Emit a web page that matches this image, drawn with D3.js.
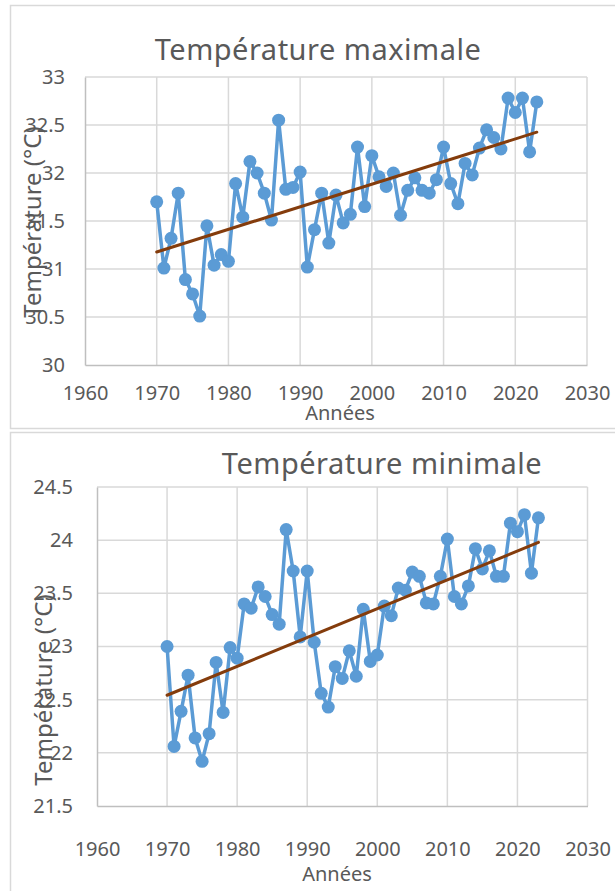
<!DOCTYPE html>
<html>
<head>
<meta charset="utf-8">
<script src="https://cdn.jsdelivr.net/npm/d3@7"></script>
<style>
  body { margin: 0; background: #fff; }
  text { font-family: "Noto Sans", "Open Sans", sans-serif; fill: #595959; }
</style>
</head>
<body>
<script>
// years 1970 - 2023
var years = d3.range(1970, 2024);

var tmax = [31.70, 31.01, 31.32, 31.79, 30.89, 30.74, 30.51, 31.45, 31.04, 31.15,
            31.08, 31.89, 31.54, 32.12, 32.00, 31.79, 31.51, 32.55, 31.83, 31.85,
            32.01, 31.02, 31.41, 31.79, 31.27, 31.77, 31.48, 31.57, 32.27, 31.65,
            32.18, 31.96, 31.86, 32.00, 31.56, 31.82, 31.95, 31.82, 31.79, 31.93,
            32.27, 31.89, 31.68, 32.10, 31.98, 32.26, 32.45, 32.37, 32.25, 32.78,
            32.63, 32.78, 32.22, 32.74];

var tmin = [23.00, 22.06, 22.39, 22.73, 22.14, 21.92, 22.18, 22.85, 22.38, 22.99,
            22.89, 23.40, 23.36, 23.56, 23.47, 23.30, 23.21, 24.10, 23.71, 23.09,
            23.71, 23.04, 22.56, 22.43, 22.81, 22.70, 22.96, 22.72, 23.35, 22.86,
            22.92, 23.38, 23.29, 23.55, 23.53, 23.70, 23.66, 23.41, 23.40, 23.66,
            24.01, 23.47, 23.40, 23.57, 23.92, 23.73, 23.90, 23.66, 23.66, 24.16,
            24.08, 24.24, 23.69, 24.21];

var xTicks = [1960, 1970, 1980, 1990, 2000, 2010, 2020, 2030];
var yTicksMax = [30, 30.5, 31, 31.5, 32, 32.5, 33];
var yTicksMin = [21.5, 22, 22.5, 23, 23.5, 24, 24.5];

var w = 615, h = 891;

var svg = d3.select("body").append("svg")
  .attr("width", w)
  .attr("height", h);

// panel frames
svg.append("rect").attr("x", 10.5).attr("y", 5.5).attr("width", 620).attr("height", 423)
  .attr("fill", "#fff").attr("stroke", "#d9d9d9").attr("stroke-width", 1.5);
svg.append("rect").attr("x", 10.5).attr("y", 432.5).attr("width", 620).attr("height", 470)
  .attr("fill", "#fff").attr("stroke", "#d9d9d9").attr("stroke-width", 1.5);

// linear regression for the trend line
function trend(xs, ys) {
  var mx = d3.mean(xs), my = d3.mean(ys);
  var num = 0, den = 0;
  xs.forEach(function(x, i) {
    num += (x - mx) * (ys[i] - my);
    den += (x - mx) * (x - mx);
  });
  var b = num / den, a = my - b * mx;
  return function(x) { return a + b * x; };
}

function drawChart(opt) {
  var g = svg.append("g");

  var x = d3.scaleLinear().domain([1960, 2030]).range([opt.left, opt.right]);
  var y = d3.scaleLinear().domain(opt.ydomain).range([opt.bottom, opt.top]);

  // gridlines
  g.append("g").selectAll("line.h")
    .data(opt.yticks.slice(1))
    .enter().append("line")
    .attr("x1", opt.left).attr("x2", opt.right)
    .attr("y1", function(d) { return y(d); })
    .attr("y2", function(d) { return y(d); })
    .attr("stroke", "#d9d9d9").attr("stroke-width", 1.5);

  g.append("g").selectAll("line.v")
    .data(xTicks.slice(1))
    .enter().append("line")
    .attr("y1", opt.top).attr("y2", opt.bottom)
    .attr("x1", function(d) { return x(d); })
    .attr("x2", function(d) { return x(d); })
    .attr("stroke", "#d9d9d9").attr("stroke-width", 1.5);

  // axes
  var xAxis = g.append("g")
    .attr("transform", "translate(0," + opt.bottom + ")")
    .call(d3.axisBottom(x).tickValues(xTicks).tickFormat(d3.format("d")).tickSize(0).tickPadding(opt.xpad));
  xAxis.select(".domain").attr("stroke", "#bfbfbf").attr("stroke-width", 1.5);
  xAxis.selectAll("text").style("font-size", "20px").attr("fill", "#595959");

  var yAxis = g.append("g")
    .attr("transform", "translate(" + opt.left + ",0)")
    .call(d3.axisLeft(y).tickValues(opt.yticks).tickFormat(d3.format("")).tickSize(0).tickPadding(opt.ypad));
  yAxis.select(".domain").attr("stroke", "#bfbfbf").attr("stroke-width", 1.5);
  yAxis.selectAll("text").style("font-size", "20px").attr("fill", "#595959");

  // series line
  var line = d3.line()
    .x(function(d, i) { return x(years[i]); })
    .y(function(d) { return y(d); });

  g.append("path")
    .datum(opt.values)
    .attr("d", line)
    .attr("fill", "none")
    .attr("stroke", "#5b9bd5")
    .attr("stroke-width", 3.5)
    .attr("stroke-linejoin", "round");

  g.selectAll("circle")
    .data(opt.values)
    .enter().append("circle")
    .attr("cx", function(d, i) { return x(years[i]); })
    .attr("cy", function(d) { return y(d); })
    .attr("r", 6.5)
    .attr("fill", "#5b9bd5");

  // trend line
  var f = trend(years, opt.values);
  var ends = [years[0], years[years.length - 1]];
  g.append("line")
    .attr("x1", x(ends[0])).attr("y1", y(f(ends[0])))
    .attr("x2", x(ends[1])).attr("y2", y(f(ends[1])))
    .attr("stroke", "#843c0c")
    .attr("stroke-width", 3)
    .attr("stroke-linecap", "round");

  // titles
  g.append("text")
    .attr("x", opt.titleX).attr("y", opt.titleY)
    .attr("text-anchor", "middle")
    .style("font-size", "29px")
    .style("letter-spacing", "0.5px")
    .text(opt.title);

  g.append("text")
    .attr("x", opt.xlabX).attr("y", opt.xlabY)
    .attr("text-anchor", "middle")
    .style("font-size", "20px")
    .text("Années");

  g.append("text")
    .attr("transform", "translate(" + opt.ylabX + "," + opt.ylabY + ") rotate(-90)")
    .attr("text-anchor", "middle")
    .style("font-size", "24px")
    .text("Température (°C)");
}

drawChart({
  values: tmax,
  ydomain: [30, 33],
  yticks: yTicksMax,
  left: 85, right: 587, top: 77, bottom: 365,
  xpad: 21, ypad: 20,
  title: "Température maximale", titleX: 318, titleY: 60,
  xlabX: 340, xlabY: 420,
  ylabX: 41, ylabY: 222
});

drawChart({
  values: tmin,
  ydomain: [21.5, 24.5],
  yticks: yTicksMin,
  left: 97, right: 587.5, top: 487, bottom: 806,
  xpad: 36, ypad: 24,
  title: "Température minimale", titleX: 382, titleY: 474,
  xlabX: 337, xlabY: 881,
  ylabX: 52, ylabY: 690
});
</script>
</body>
</html>
